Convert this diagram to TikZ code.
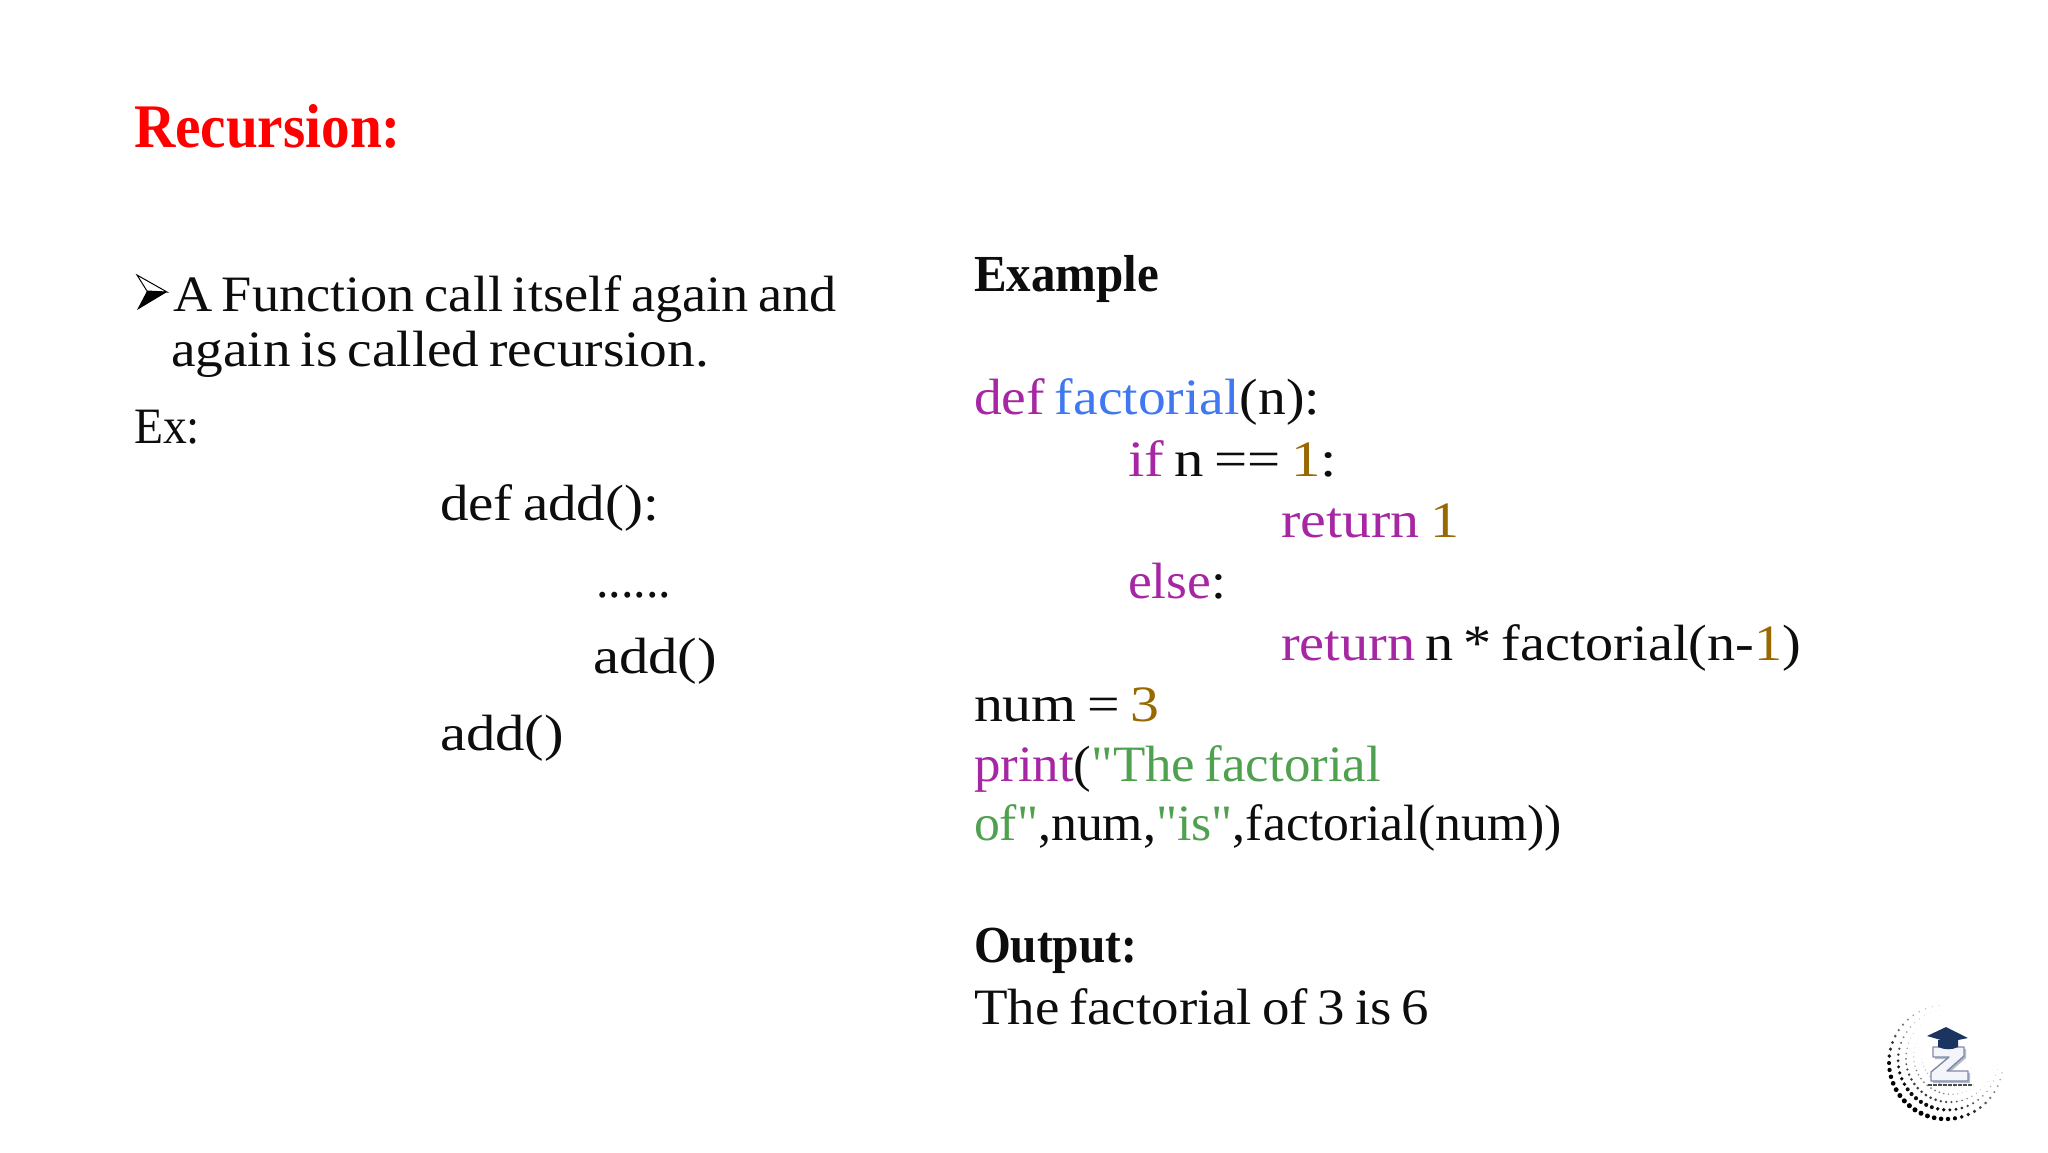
\documentclass[tikz,border=0pt]{standalone}
\usepackage{graphicx}
\usepackage{fontspec}
\setmainfont{Liberation Serif}[WordSpace=0.72]
\newfontfamily\plainserif{Liberation Serif}[WordSpace=0.72]
\definecolor{ink}{HTML}{0D0D0D}
\definecolor{kw}{HTML}{A626A4}
\definecolor{fn}{HTML}{4078F2}
\definecolor{num}{HTML}{986801}
\definecolor{str}{HTML}{50A14F}
\definecolor{capblue}{HTML}{1C3560}
\definecolor{zedge}{HTML}{8088A8}
\definecolor{zface}{HTML}{F4F5FA}
\newsavebox\fitbox
\newcommand\fitw[2]{\sbox\fitbox{#2}\pgfmathsetmacro\fitr{#1/\wd\fitbox}\scalebox{\fitr}[1]{\usebox\fitbox}}
\newcommand\K[1]{\textcolor{kw}{#1}}
\newcommand\F[1]{\textcolor{fn}{#1}}
\newcommand\N[1]{\textcolor{num}{#1}}
\newcommand\St[1]{\textcolor{str}{#1}}
\newcommand\Qt{{\plainserif\symbol{34}}}
\tikzset{x=1pt,y=1pt,
 txt/.style={anchor=base west,inner sep=0pt,outer sep=0pt,text=ink,font=\fontsize{51}{60}\selectfont},
 ttl/.style={anchor=base west,inner sep=0pt,outer sep=0pt,text=red,font=\fontsize{62}{70}\selectfont\bfseries},
 hd/.style={txt,font=\fontsize{52}{60}\selectfont\bfseries}}
\begin{document}
\begin{tikzpicture}
\useasboundingbox (0,0) rectangle (2048,-1152);
\fill[white] (0,0) rectangle (2048,-1152);
\node[ttl] (title) at (134,-147) {\fitw{267}{Recursion:}};
\draw[black,line width=1pt,fill=white,line join=miter] (137,-275) -- (167,-292) -- (147,-291) -- cycle;
\fill[black] (137,-310) -- (167,-292) -- (147,-291) -- cycle;
\node[txt] (l1) at (173,-311) {\fitw{664}{A Function call itself again and}};
\node[txt] (l2) at (171,-366) {\fitw{538}{again is called recursion.}};
\node[txt] (ex) at (134,-443) {\fitw{66}{Ex:}};
\node[txt] (a1) at (440,-520) {\fitw{219}{def add():}};
\node[txt] (a2) at (596,-597) {\fitw{75}{......}};
\node[txt] (a3) at (593,-673) {\fitw{124}{add()}};
\node[txt] (a4) at (440,-750) {\fitw{124}{add()}};
\node[hd] (r0) at (974,-291) {\fitw{185}{Example}};
\node[txt] (r1) at (974,-414) {\fitw{346}{\K{def} \F{factorial}(n):}};
\node[txt] (r2) at (1128,-476) {\fitw{209}{\K{if} n == \N{1}:}};
\node[txt] (r3) at (1281,-537) {\fitw{178}{\K{return} \N{1}}};
\node[txt] (r4) at (1128,-598) {\fitw{98}{\K{else}:}};
\node[txt] (r5) at (1281,-660) {\fitw{520}{\K{return} n * factorial(n-\N{1})}};
\node[txt] (r6) at (974,-721) {\fitw{185}{num = \N{3}}};
\node[txt] (r7) at (974,-781) {\fitw{407}{\K{print}(\St{\Qt The factorial}}};
\node[txt] (r8) at (974,-840) {\fitw{588}{\St{of\Qt},num,\St{\Qt is\Qt},factorial(num))}};
\node[hd] (r9) at (974,-962) {\fitw{163}{Output:}};
\node[txt] (r10) at (974,-1024) {\fitw{455}{The factorial of 3 is 6}};
% logo: rings of dots
\begin{scope}[shift={(1946,-1062)}]
 \foreach \rr/\ss/\pw/\op in {57/1/1.3/1,50/.82/1.8/.95,44/.6/2.6/.75,38/.4/3.6/.5,32/.3/5/.35}{
  \foreach \a in {90,97,...,352}{
   \pgfmathsetmacro\w{max(0.001,0.5+0.5*cos(\a-232))^\pw}
   \pgfmathsetmacro\d{(0.35+2.2*\w)*\ss}
   \pgfmathsetmacro\o{\op*min(1,0.1+1.15*\w)}
   \fill[black,opacity=\o] ({\rr*cos(\a)+(57-\rr)*.3},{\rr*sin(\a)+(57-\rr)*.3}) circle (\d);
  }}
\end{scope}
% logo: letter
\path[fill=capblue!55,fill opacity=.6] (1935,-1049) -- (1966,-1049) -- (1966,-1058) -- (1949,-1073) -- (1970,-1073) -- (1970,-1083) -- (1933,-1083) -- (1933,-1074) -- (1951,-1059) -- (1935,-1059) -- cycle;
\draw[zedge,line width=1.4pt,fill=zface,line join=round] (1933,-1047) -- (1964,-1047) -- (1964,-1056) -- (1947,-1071) -- (1968,-1071) -- (1968,-1081) -- (1931,-1081) -- (1931,-1072) -- (1949,-1057) -- (1933,-1057) -- cycle;
% logo: cap
\fill[capblue] (1938,-1040) -- (1938,-1047) .. controls (1945,-1050) and (1952,-1050) .. (1958,-1047) -- (1958,-1040) -- cycle;
\fill[capblue] (1927,-1036) -- (1946,-1027) -- (1968,-1038) -- (1948,-1042) -- cycle;
\draw[black!70,line width=2.6pt,dash pattern=on 4pt off 1pt] (1928,-1085) -- (1973,-1085);
\end{tikzpicture}
\end{document}
